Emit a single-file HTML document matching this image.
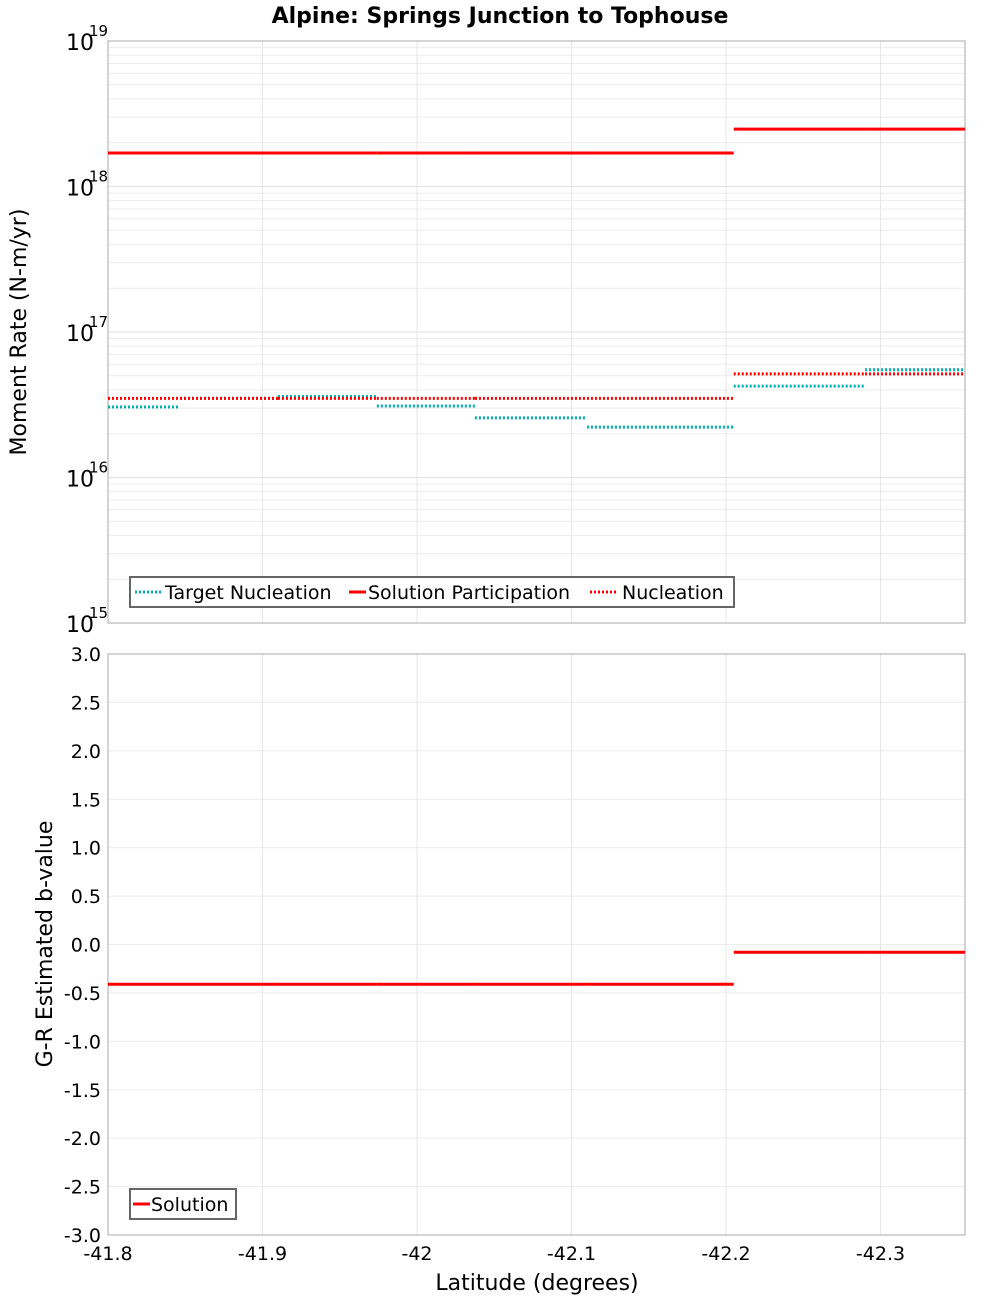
<!DOCTYPE html>
<html><head><meta charset="utf-8"><style>
body{margin:0;background:#fff;}
svg{font-family:"DejaVu Sans","Liberation Sans",sans-serif;}
</style></head><body>
<svg id="c" width="1000" height="1300" xmlns="http://www.w3.org/2000/svg"></svg>
<script>
const bounds=[-41.8,-41.8466,-41.910,-41.974,-42.0375,-42.110,-42.205,-42.290,-42.3547];
const targetNuc=[3.05e16,3.5e16,3.6e16,3.1e16,2.57e16,2.22e16,4.25e16,5.5e16];
const nucleation=[3.5e16,3.5e16,3.5e16,3.5e16,3.5e16,3.5e16,5.15e16,5.15e16];
const solutionPart=[1.7e18,1.7e18,1.7e18,1.7e18,1.7e18,1.7e18,2.48e18,2.48e18];
const bValues=[-0.41,-0.41,-0.41,-0.41,-0.41,-0.41,-0.08,-0.08];
const xTicks=[-41.8,-41.9,-42,-42.1,-42.2,-42.3];
const xTickLabels=["-41.8","-41.9","-42","-42.1","-42.2","-42.3"];
const bTicks=[3,2.5,2,1.5,1,0.5,0,-0.5,-1,-1.5,-2,-2.5,-3];
const logExps=[15,16,17,18,19];

const NS="http://www.w3.org/2000/svg";
const svg=document.getElementById('c');
function el(t,a,p){const e=document.createElementNS(NS,t);for(const k in a)e.setAttribute(k,a[k]);(p||svg).appendChild(e);return e;}
const L=108,R=965,T1=41,B1=623,T2=654,B2=1235;
const X=v=>L+(-v-41.8)/0.1*154.5;
const Y1=v=>T1+(19-Math.log10(v))*(B1-T1)/4;
const Y2=v=>T2+(3-v)*(B2-T2)/6;

let t=el('text',{x:500,y:23,'text-anchor':'middle','font-size':22,'font-weight':'bold'});
t.textContent='Alpine: Springs Junction to Tophouse';

// top grid
const g1=el('g',{});
for(let e=15;e<19;e++)for(let m=2;m<10;m++){el('line',{x1:L,x2:R,y1:Y1(m*10**e),y2:Y1(m*10**e),stroke:'#ececec','stroke-width':1},g1);}
logExps.forEach(e=>el('line',{x1:L,x2:R,y1:Y1(10**e),y2:Y1(10**e),stroke:'#e0e0e0'},g1));
xTicks.forEach(v=>el('line',{x1:X(v),x2:X(v),y1:T1,y2:B1,stroke:'#e6e6e6'},g1));
let f=el('rect',{x:L,y:T1,width:R-L,height:B1-T1,fill:'none',stroke:'#aaa'});
logExps.forEach(e=>{const y=Y1(10**e);
 const tx=el('text',{x:66,y:y+9,'font-size':22});tx.textContent='10';
 const s=el('text',{x:89,y:y-5,'font-size':15});s.textContent=e;});
t=el('text',{x:26,y:332,'font-size':22,'text-anchor':'middle',transform:'rotate(-90 26 332)'});t.textContent='Moment Rate (N-m/yr)';

function series(vals,Y,color,dash,name){
 const g=el('g',{});
 vals.forEach((v,i)=>{const a={x1:X(bounds[i]),x2:X(bounds[i+1]),y1:Y(v),y2:Y(v),stroke:color,'stroke-width':3};if(dash)a['stroke-dasharray']='2,2';
  const l=el('line',a,g);});
}
series(targetNuc,Y1,'#00b0b0',true,'target-nucleation-series');
series(nucleation,Y1,'#ff0000',true,'nucleation-series');
series(solutionPart,Y1,'#ff0000',false,'solution-participation-series');

// legend top
const lg=el('g',{});
el('rect',{x:130,y:577,width:604,height:30,fill:'#fff',stroke:'#666','stroke-width':2},lg);
[[135,165,'#00b0b0',true,'Target Nucleation'],[349,368,'#ff0000',false,'Solution Participation'],[590,622,'#ff0000',true,'Nucleation']].forEach(([x,tx,c,d,n])=>{
 const a={x1:x,x2:x+26,y1:592,y2:592,stroke:c,'stroke-width':3};if(d)a['stroke-dasharray']='2,2';
 if(!d){a.x2=x+17;}
 el('line',a,lg);const te=el('text',{x:tx,y:599,'font-size':19},lg);te.textContent=n;});

// bottom
const g2=el('g',{});
bTicks.forEach(v=>el('line',{x1:L,x2:R,y1:Y2(v),y2:Y2(v),stroke:'#ececec'},g2));
xTicks.forEach(v=>el('line',{x1:X(v),x2:X(v),y1:T2,y2:B2,stroke:'#e6e6e6'},g2));
f=el('rect',{x:L,y:T2,width:R-L,height:B2-T2,fill:'none',stroke:'#aaa'});
bTicks.forEach(v=>{const tx=el('text',{x:101,y:Y2(v)+7,'font-size':19,'text-anchor':'end'});tx.textContent=v.toFixed(1);});
t=el('text',{x:52,y:944,'font-size':22,'text-anchor':'middle',transform:'rotate(-90 52 944)'});t.textContent='G-R Estimated b-value';
series(bValues,Y2,'#ff0000',false,'b-value-series');
const lg2=el('g',{});
el('rect',{x:130,y:1189,width:106,height:30,fill:'#fff',stroke:'#666','stroke-width':2},lg2);
el('line',{x1:133,x2:150,y1:1204,y2:1204,stroke:'#ff0000','stroke-width':3},lg2);
t=el('text',{x:151,y:1211,'font-size':19},lg2);t.textContent='Solution';
xTicks.forEach((v,i)=>{const tx=el('text',{x:X(v),y:1260,'font-size':19,'text-anchor':'middle'});tx.textContent=xTickLabels[i];});
t=el('text',{x:537,y:1290,'font-size':22,'text-anchor':'middle'});t.textContent='Latitude (degrees)';
</script>
</body></html>
